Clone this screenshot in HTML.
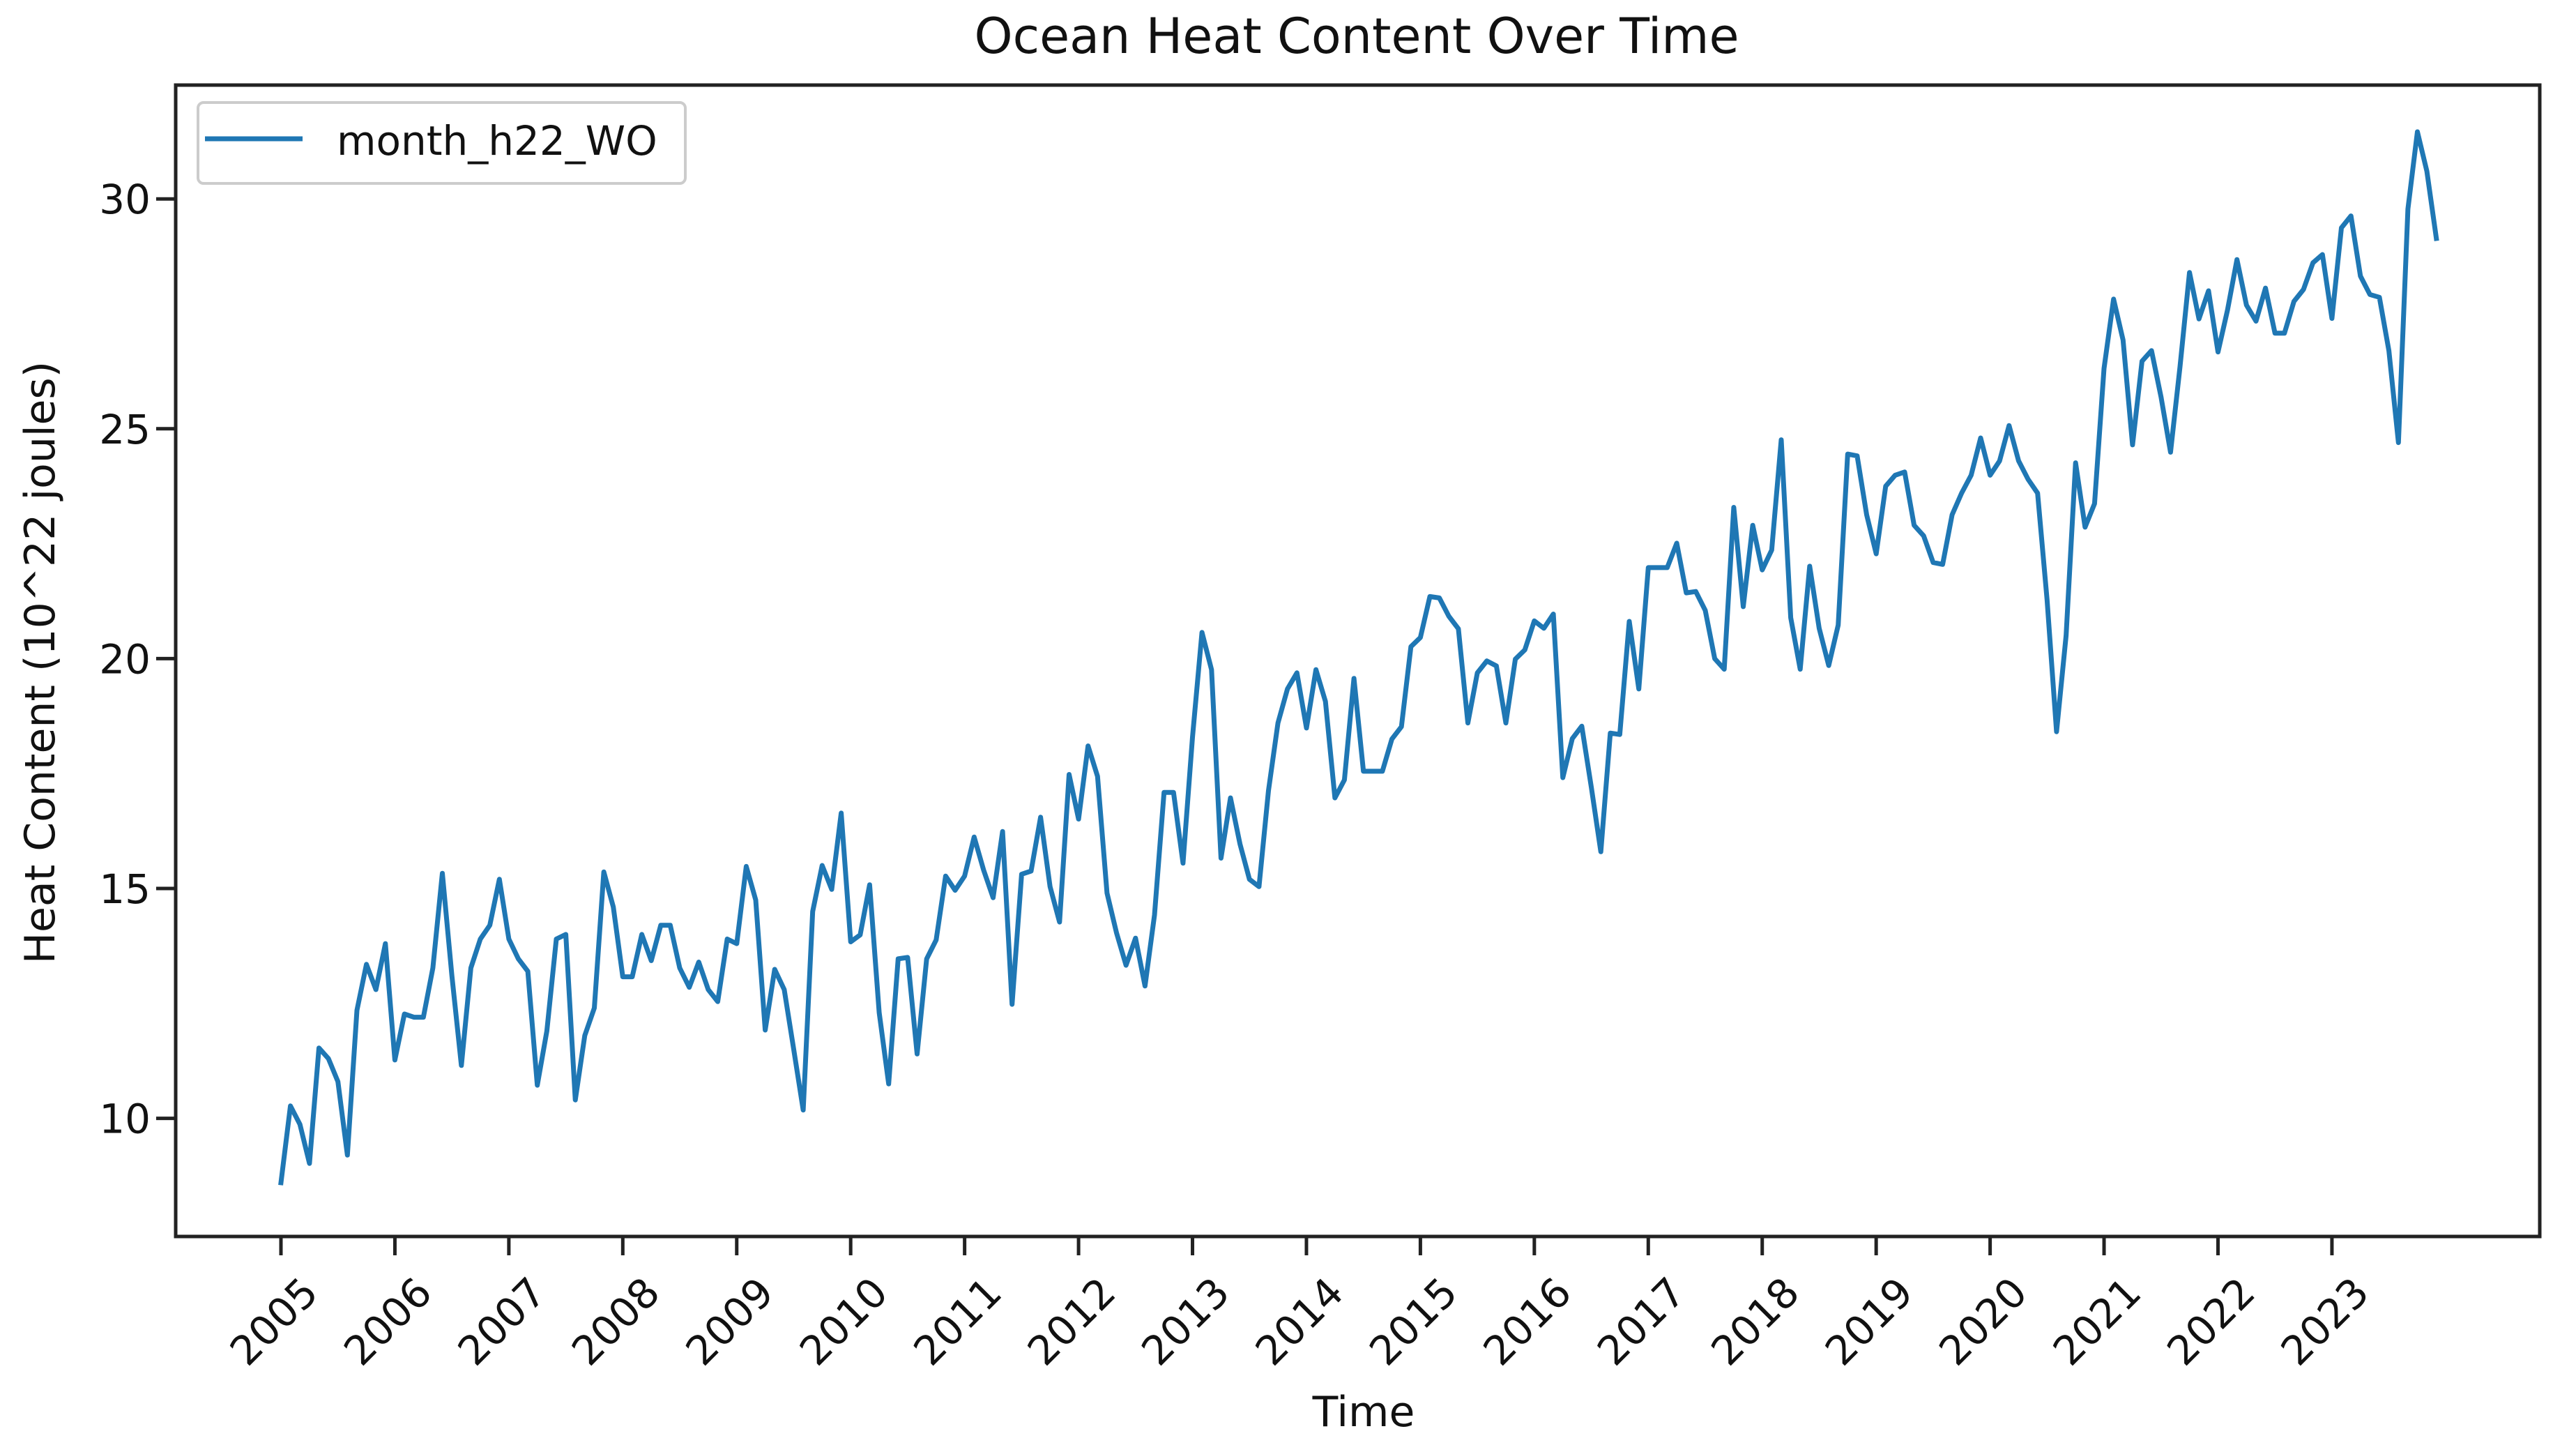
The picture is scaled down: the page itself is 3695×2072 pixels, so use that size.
<!DOCTYPE html>
<html><head><meta charset="utf-8"><title>Ocean Heat Content Over Time</title>
<style>html,body{margin:0;padding:0;background:#fff}svg{display:block}text{font-family:"DejaVu Sans","Liberation Sans",sans-serif;fill:#111}</style>
</head><body>
<svg id="chart" xmlns="http://www.w3.org/2000/svg" width="3695" height="2072" viewBox="0 0 3695 2072">
<rect x="0" y="0" width="3695" height="2072" fill="#fff"/>
<text x="1946" y="76" font-size="70" text-anchor="middle">Ocean Heat Content Over Time</text>
<text x="1956" y="2045" font-size="60" text-anchor="middle">Time</text>
<text transform="translate(78,950) rotate(-90)" font-size="60" text-anchor="middle">Heat Content (10^22 joules)</text>
<g id="plot"></g>
<rect x="252" y="122" width="3391" height="1651" fill="none" stroke="#222" stroke-width="5"/>
<g>
<rect x="284" y="147" width="699" height="116" rx="8" fill="#fff" stroke="#ccc" stroke-width="4"/>
<line x1="294" y1="199" x2="434" y2="199" stroke="#1f77b4" stroke-width="7"/>
<text x="483" y="222" font-size="58">month_h22_WO</text>
</g>
</svg>
<script>
const startYear = 2005;
const yTicks = [10, 15, 20, 25, 30];
const xTickLabels = ["2005","2006","2007","2008","2009","2010","2011","2012","2013","2014","2015","2016","2017","2018","2019","2020","2021","2022","2023"];
const heatValues = [
8.6,10.27,9.87,9.02,11.53,11.3,10.8,9.2,12.35,13.35,12.8,13.8,
11.27,12.27,12.2,12.2,13.27,15.33,13.1,11.15,13.27,13.9,14.2,15.2,
13.9,13.47,13.2,10.72,11.9,13.9,14.0,10.4,11.8,12.4,15.36,14.6,
13.08,13.08,14.0,13.43,14.2,14.2,13.27,12.85,13.4,12.8,12.54,13.9,
13.8,15.48,14.75,11.92,13.24,12.8,11.5,10.18,14.5,15.5,14.98,16.64,
13.84,13.99,15.08,12.3,10.75,13.47,13.5,11.4,13.47,13.88,15.27,14.96,
15.27,16.12,15.4,14.8,16.24,12.48,15.31,15.38,16.55,15.04,14.27,17.48,
16.51,18.1,17.44,14.9,14.03,13.33,13.92,12.88,14.42,17.09,17.09,15.55,
18.29,20.57,19.76,15.66,16.97,15.97,15.2,15.04,17.13,18.6,19.34,19.69,
18.49,19.76,19.07,16.97,17.36,19.57,17.55,17.55,17.55,18.25,18.52,20.26,
20.46,21.35,21.32,20.92,20.65,18.6,19.69,19.95,19.84,18.6,19.99,20.19,
20.82,20.66,20.97,17.41,18.26,18.53,17.2,15.8,18.38,18.35,20.81,19.34,
21.98,21.98,21.98,22.51,21.43,21.46,21.05,20.0,19.77,23.29,21.13,22.9,
21.93,22.36,24.76,20.89,19.77,22.01,20.66,19.85,20.73,24.45,24.41,23.13,
22.28,23.75,23.99,24.06,22.9,22.67,22.09,22.05,23.13,23.6,23.99,24.8,
23.99,24.3,25.07,24.3,23.9,23.6,21.28,18.41,20.5,24.26,22.86,23.37,
26.31,27.82,26.93,24.65,26.47,26.7,25.69,24.49,26.35,28.4,27.39,28.0,
26.67,27.58,28.68,27.69,27.34,28.06,27.08,27.08,27.77,28.03,28.61,28.79,
27.4,29.37,29.63,28.32,27.92,27.86,26.7,24.7,29.78,31.46,30.6,29.14
];
const NS = "http://www.w3.org/2000/svg";
const svg = document.getElementById('chart');
const plot = document.getElementById('plot');
const x0 = 403, monthW = 13.62;
function xScale(i){ return x0 + i * monthW; }
function yScale(v){ return 1603.6 - (v - 10) * 65.92; }
function mk(tag, attrs){ const e = document.createElementNS(NS, tag); for (const k in attrs) e.setAttribute(k, attrs[k]); return e; }
yTicks.forEach(t => {
  const y = yScale(t);
  const tk = mk('line', {x1: 224, y1: y, x2: 252, y2: y, stroke: '#222', 'stroke-width': 5});
  
  
  svg.appendChild(tk);
  const lb = mk('text', {x: 216, y: y + 21, 'font-size': 58, 'text-anchor': 'end'});
  lb.textContent = String(t);
  
  
  svg.appendChild(lb);
});
xTickLabels.forEach((lab) => {
  const x = xScale((parseInt(lab) - startYear) * 12);
  const tk = mk('line', {x1: x, y1: 1773, x2: x, y2: 1800, stroke: '#222', 'stroke-width': 5});
  
  
  svg.appendChild(tk);
  const lb = mk('text', {x: 0, y: 0, 'font-size': 58, 'text-anchor': 'middle', 'dominant-baseline': 'central', transform: 'translate(' + (x - 10) + ',1895) rotate(-45)'});
  lb.textContent = lab;
  
  
  svg.appendChild(lb);
});
const pts = heatValues.map((v, i) => xScale(i).toFixed(1) + ',' + yScale(v).toFixed(1)).join(' ');
const line = mk('polyline', {points: pts, fill: 'none', stroke: '#1f77b4', 'stroke-width': 7, 'stroke-linejoin': 'round', 'stroke-linecap': 'square'});


plot.appendChild(line);
</script>
</body></html>
